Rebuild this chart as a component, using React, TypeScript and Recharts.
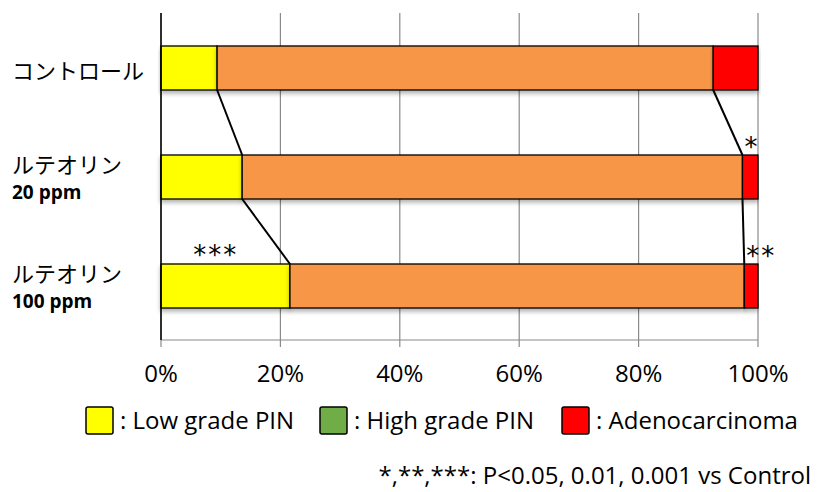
import React from 'react';
import { BarChart, Bar, XAxis, YAxis, CartesianGrid } from 'recharts';

const categories = ['control', 'lut20', 'lut100'];
const labelLine1 = ['コントロール', 'ルテオリン', 'ルテオリン'];
const labelLine2 = ['', '20 ppm', '100 ppm'];
const lowGrade = [9.4, 13.6, 21.6];
const highGrade = [83.1, 83.8, 76.1];
const adeno = [7.5, 2.6, 2.3];
const sigLow = ['', '', '***'];
const sigAdeno = ['', '*', '**'];
const xTicks = [0, 20, 40, 60, 80, 100];
const seriesNames = ['Low grade PIN', 'High grade PIN', 'Adenocarcinoma'];
const barColors = ['#FFFF00', '#F79646', '#FF0000'];
const legendColors = ['#FFFF00', '#70AD47', '#FF0000'];
const footnote = '*,**,***: P<0.05, 0.01, 0.001 vs Control';

const seriesValues = [lowGrade, highGrade, adeno];
const data = categories.map((c, i) => ({ key: c, low: lowGrade[i], high: highGrade[i], adeno: adeno[i] }));

const W = 818;
const H = 492;
const MARGIN = { top: 13, right: 60, bottom: 122, left: 0 };
const Y_AXIS_W = 161;
const X_AXIS_H = 30;
const PLOT_H = H - MARGIN.top - MARGIN.bottom - X_AXIS_H;
const STEP = PLOT_H / categories.length;
const LATIN = "'Open Sans', sans-serif";
const CJK = "'Noto Sans CJK JP', sans-serif";

const cumUpTo = (i: number, s: number) => {
  let t = 0;
  for (let k = 0; k <= s; k++) t += seriesValues[k][i];
  return t;
};

const makeShape = (s: number) => (props: any) => {
  const { x, y, width, height, index } = props;
  const val = seriesValues[s][index];
  const k = val ? width / val : 0;
  const left = x - (cumUpTo(index, s) - val) * k;
  const parts: any[] = [];
  parts.push(
    <rect key="r" x={x} y={y} width={width} height={height} fill={barColors[s]} stroke="#000" strokeWidth={1.3} filter="url(#barShadow)" />
  );
  if (s < 2 && index < categories.length - 1) {
    const nx = left + cumUpTo(index + 1, s) * k;
    parts.push(
      <line key="l" x1={x + width} y1={y + height} x2={nx} y2={y + STEP} stroke="#000" strokeWidth={2} />
    );
  }
  if (s === 0 && sigLow[index]) {
    parts.push(
      <text key="t" x={x + width * 0.25} y={y} fontFamily="'DejaVu Sans', sans-serif" fontSize={26} letterSpacing={2} fill="#000">{sigLow[index]}</text>
    );
  }
  if (s === 2 && sigAdeno[index]) {
    parts.push(
      <text key="t" x={x + 2} y={y + 1} fontFamily="'DejaVu Sans', sans-serif" fontSize={26} letterSpacing={2} fill="#000">{sigAdeno[index]}</text>
    );
  }
  return (
    <g>
      {index === 0 && s === 0 ? (
        <defs>
          <filter id="barShadow" x="-5%" y="-20%" width="110%" height="160%">
            <feDropShadow dx="0" dy="3" stdDeviation="2" floodColor="#000" floodOpacity="0.3" />
          </filter>
        </defs>
      ) : null}
      {parts}
    </g>
  );
};

const CatTick = (props: any) => {
  const { y, payload } = props;
  const i = categories.indexOf(payload.value);
  if (i < 0) return null;
  const l1 = labelLine1[i];
  const l2 = labelLine2[i];
  if (!l2) {
    return (
      <text x={12} y={y + 11} fontFamily={CJK} fontSize={22} fill="#000">{l1}</text>
    );
  }
  return (
    <g>
      <text x={12} y={y - 4} fontFamily={CJK} fontSize={22} fill="#000">{l1}</text>
      <text x={12} y={y + 22} fontFamily="'Open Sans', sans-serif" fontWeight={700} fontSize={19} fill="#000">{l2}</text>
    </g>
  );
};

const legendBoxX = [86, 320, 562];

const Legend = () => {
  const items = seriesNames.map((n, i) => {
    const bx = legendBoxX[i];
    return (
      <g key={n}>
        <rect x={bx} y={407} width={27} height={27} rx={2} fill={legendColors[i]} stroke="#000" strokeWidth={1.5} />
        <text x={bx + 34} y={429} fontFamily={LATIN} fontSize={24} fill="#000">{': ' + n}</text>
      </g>
    );
  });
  return (
    <svg width={W} height={H} style={{ position: 'absolute', left: 0, top: 0, pointerEvents: 'none' }}>
      {items}
      <text x={811} y={484} textAnchor="end" fontFamily={LATIN} fontSize={24} fill="#000">{footnote}</text>
    </svg>
  );
};

export default function App() {
  return (
    <div style={{ position: 'absolute', left: 0, top: 0, width: W, height: H, background: '#fff' }}>
      <BarChart width={W} height={H} data={data} layout="vertical" margin={MARGIN} barSize={44}>
        <CartesianGrid horizontal={false} vertical={true} stroke="#8a8a8a" strokeWidth={1.2} />
        <XAxis
          type="number"
          domain={[0, 100]}
          ticks={xTicks}
          tickFormatter={(v: number) => `${v}%`}
          height={X_AXIS_H}
          axisLine={{ stroke: '#8a8a8a', strokeWidth: 1.2 }}
          tickLine={{ stroke: '#8a8a8a', strokeWidth: 1.2 }}
          tickSize={7}
          tickMargin={18}
          tick={{ fontSize: 24, fill: '#000', fontFamily: LATIN }}
          interval={0}
        />
        <XAxis
          xAxisId="top"
          orientation="top"
          type="number"
          domain={[0, 100]}
          height={0}
          tick={false}
          tickLine={false}
          axisLine={{ stroke: '#000', strokeWidth: 1.5 }}
        />
        <YAxis
          type="category"
          dataKey="key"
          width={Y_AXIS_W}
          axisLine={{ stroke: '#000', strokeWidth: 1.5 }}
          tickLine={false}
          tick={<CatTick />}
          interval={0}
        />
        <YAxis
          yAxisId="right"
          orientation="right"
          type="category"
          dataKey="key"
          width={0}
          axisLine={{ stroke: '#000', strokeWidth: 1.5 }}
          tickLine={false}
          tick={false}
        />
        <Bar dataKey="low" stackId="a" fill={barColors[0]} shape={makeShape(0)} isAnimationActive={false} />
        <Bar dataKey="high" stackId="a" fill={barColors[1]} shape={makeShape(1)} isAnimationActive={false} />
        <Bar dataKey="adeno" stackId="a" fill={barColors[2]} shape={makeShape(2)} isAnimationActive={false} />
      </BarChart>
      <Legend />
    </div>
  );
}
